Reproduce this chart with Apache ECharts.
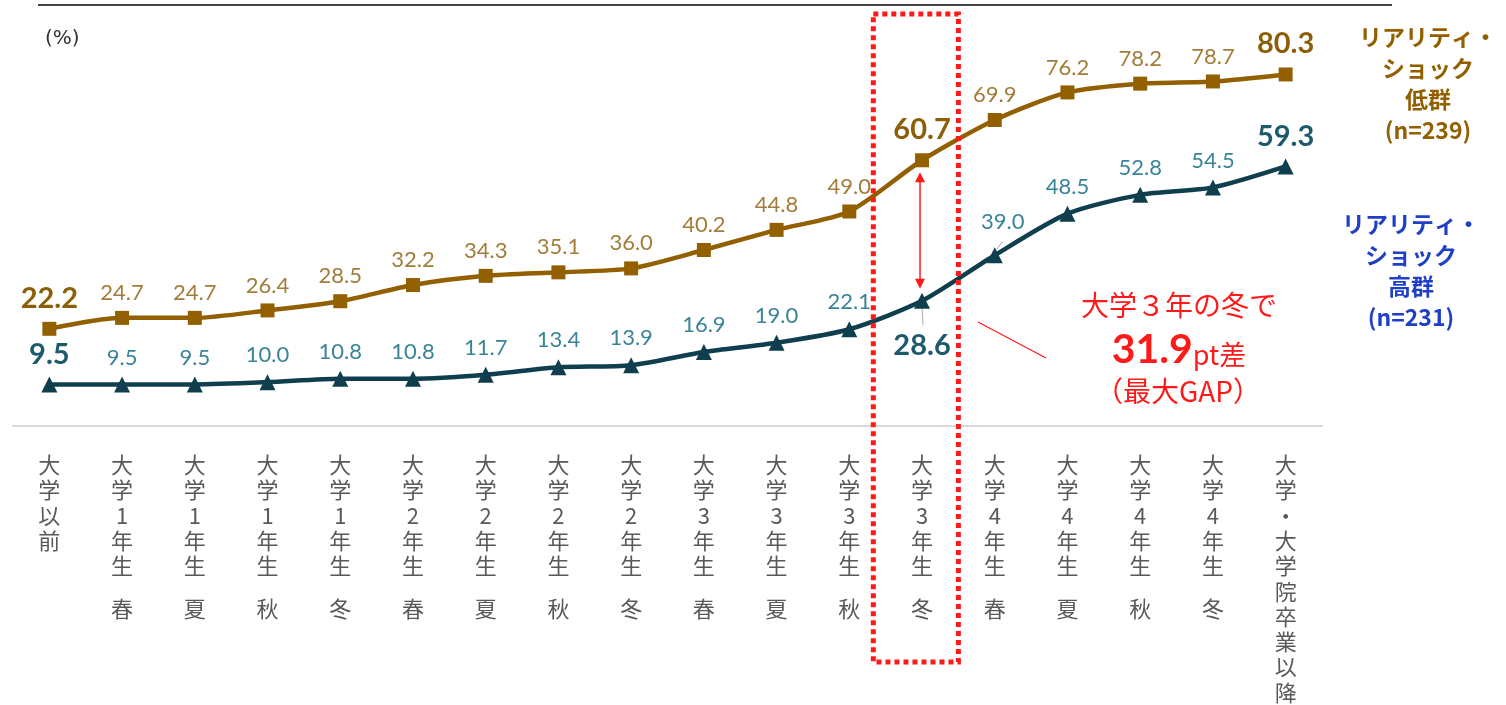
<!DOCTYPE html>
<html><head><meta charset="utf-8">
<script src="https://cdn.jsdelivr.net/npm/echarts@6/dist/echarts.min.js"></script>
<style>html,body{margin:0;padding:0;background:#fff;}#c{width:1506px;height:705px;}</style>
</head><body><div id="c"></div>
<script>
var categories = ['大\n学\n以\n前','大\n学\n1\n年\n生|春','大\n学\n1\n年\n生|夏','大\n学\n1\n年\n生|秋','大\n学\n1\n年\n生|冬',
  '大\n学\n2\n年\n生|春','大\n学\n2\n年\n生|夏','大\n学\n2\n年\n生|秋','大\n学\n2\n年\n生|冬',
  '大\n学\n3\n年\n生|春','大\n学\n3\n年\n生|夏','大\n学\n3\n年\n生|秋','大\n学\n3\n年\n生|冬',
  '大\n学\n4\n年\n生|春','大\n学\n4\n年\n生|夏','大\n学\n4\n年\n生|秋','大\n学\n4\n年\n生|冬','大\n学\n・\n大\n学\n院\n卒\n業\n以\n降'];
var lowGroup = [22.2,24.7,24.7,26.4,28.5,32.2,34.3,35.1,36.0,40.2,44.8,49.0,60.7,69.9,76.2,78.2,78.7,80.3];
var highGroup = [9.5,9.5,9.5,10.0,10.8,10.8,11.7,13.4,13.9,16.9,19.0,22.1,28.6,39.0,48.5,52.8,54.5,59.3];
var lowName = 'リアリティ・\nショック\n低群\n(n=239)';
var highName = 'リアリティ・\nショック\n高群\n(n=231)';
var gapIndex = 12;

var GOLD = '#926000', GOLD_L = '#a27c38', GOLD_B = '#8c5e08', TEAL = '#0f3f4e', TEAL_L = '#3a8497', TEAL_B = '#1d5b6c', RED = '#ff1a1a';
var numFont = 'Lato, "Noto Sans", sans-serif';
var jpFont = '"Noto Sans CJK JP", sans-serif';

var lowBold = [0, 12, 17];
var highBold = [0, 17];

var lowData = lowGroup.map(function(v,i){
  var bold = lowBold.indexOf(i) >= 0;
  return {value: v, label: bold ? {fontSize: 29, fontWeight: 'bold', color: GOLD_B, distance: 9} : {}};
});
var highData = highGroup.map(function(v,i){
  var item = {value: v};
  if (highBold.indexOf(i) >= 0) item.label = {fontSize: 29, fontWeight: 'bold', color: TEAL_B, distance: 7};
  if (i === gapIndex) item.label = {fontSize: 29, fontWeight: 'bold', color: TEAL_B, position: 'bottom', distance: 22};
  if (i === 13) item.label = {offset: [8, -6]};
  return item;
});

var chart = echarts.init(document.getElementById('c'));
chart.setOption({
  animation: false,
  backgroundColor: '#fff',
  grid: {left: 13, right: 184, top: 32, bottom: 276, containLabel: false},
  xAxis: {
    type: 'category', data: categories, boundaryGap: true,
    axisLine: {lineStyle: {color: '#d9d9d9', width: 2}},
    axisTick: {show: false},
    axisLabel: {
      interval: 0, margin: 26, color: '#595959', fontFamily: jpFont, fontSize: 22, lineHeight: 25.3,
      formatter: function(v){
        var p = v.split('|');
        if (p.length === 1) return '{a|' + p[0] + '}';
        return '{a|' + p[0] + '}\n{s| }\n{a|' + p[1] + '}';
      },
      rich: {a: {fontSize: 22, lineHeight: 25.3, color: '#595959', fontFamily: jpFont}, s: {fontSize: 10, lineHeight: 17}}
    }
  },
  yAxis: {type: 'value', min: 0, max: 90, show: false, splitLine: {show: false}},
  series: [
    {
      name: lowName, type: 'line', data: lowData, smooth: 0.25,
      symbol: 'rect', symbolSize: 14,
      lineStyle: {color: GOLD, width: 4.5}, itemStyle: {color: GOLD},
      label: {show: true, position: 'top', distance: 7, color: GOLD_L, fontSize: 22, fontFamily: numFont,
        formatter: function(p){ return p.value.toFixed(1); }},
      z: 3
    },
    {
      name: highName, type: 'line', data: highData, smooth: 0.25,
      symbol: 'triangle', symbolSize: 16,
      lineStyle: {color: TEAL, width: 4.5}, itemStyle: {color: TEAL},
      label: {show: true, position: 'top', distance: 8, color: TEAL_L, fontSize: 22, fontFamily: numFont,
        formatter: function(p){ return p.value.toFixed(1); }},
      z: 3
    }
  ]
});

function px(i, v){ return chart.convertToPixel({gridIndex: 0}, [i, v]); }
var gTop = px(gapIndex, lowGroup[gapIndex]);
var gBot = px(gapIndex, highGroup[gapIndex]);
var step = px(1, 0)[0] - px(0, 0)[0];
var p39 = px(13, highGroup[13]);
var ax = gTop[0] - 2, y1 = gTop[1] + 12, y2 = gBot[1] - 12;

chart.setOption({
  graphic: [
    {type: 'line', shape: {x1: 38, y1: 5, x2: 1392, y2: 5}, style: {stroke: '#444', lineWidth: 2}},
    {type: 'text', left: 45, top: 29, style: {text: '(%)', fill: '#333', font: '20px "DejaVu Sans", sans-serif'}},
    {type: 'rect', shape: {x: gTop[0] - step * 0.67, y: 14, width: step * 1.17, height: 648},
      style: {fill: 'none', stroke: RED, lineWidth: 5, lineDash: [5, 4]}, z: 10},
    {type: 'line', shape: {x1: ax, y1: y1 + 8, x2: ax, y2: y2 - 8}, style: {stroke: RED, lineWidth: 1.5}, z: 11},
    {type: 'polygon', shape: {points: [[ax, y1], [ax - 5, y1 + 10], [ax + 5, y1 + 10]]}, style: {fill: RED}, z: 11},
    {type: 'polygon', shape: {points: [[ax, y2], [ax - 5, y2 - 10], [ax + 5, y2 - 10]]}, style: {fill: RED}, z: 11},
    {type: 'line', shape: {x1: gBot[0], y1: gBot[1] + 6, x2: gBot[0] + 1, y2: gBot[1] + 24}, style: {stroke: '#aaa', lineWidth: 1}, z: 2},
    {type: 'line', shape: {x1: p39[0] + 2, y1: p39[1] - 6, x2: p39[0] + 8, y2: p39[1] - 14}, style: {stroke: '#aaa', lineWidth: 1}, z: 2},
    {type: 'line', shape: {x1: 978, y1: 322, x2: 1046, y2: 358}, style: {stroke: RED, lineWidth: 1.2}},
    {type: 'text', x: 1179, y: 305, style: {text: '大学３年の冬で', fill: RED, font: '28px ' + jpFont, align: 'center', verticalAlign: 'middle'}},
    {type: 'text', x: 1179, y: 350, style: {
      text: '{b|31.9}{n|pt差}', align: 'center', verticalAlign: 'middle',
      rich: {b: {fill: RED, fontSize: 41, fontWeight: 'bold', fontFamily: numFont}, n: {fill: RED, fontSize: 27, fontFamily: jpFont, padding: [9, 0, 0, 0]}}}},
    {type: 'text', x: 1178, y: 391, style: {text: '（最大GAP）', fill: RED, font: '28px ' + jpFont, align: 'center', verticalAlign: 'middle'}},
    {type: 'text', x: 1428, y: 22, style: {text: lowName, fill: GOLD, font: 'bold 23px ' + jpFont, lineHeight: 31, align: 'center'}},
    {type: 'text', x: 1411, y: 209, style: {text: highName, fill: '#1f3fc8', font: 'bold 23px ' + jpFont, lineHeight: 31, align: 'center'}}
  ]
});
</script></body></html>
